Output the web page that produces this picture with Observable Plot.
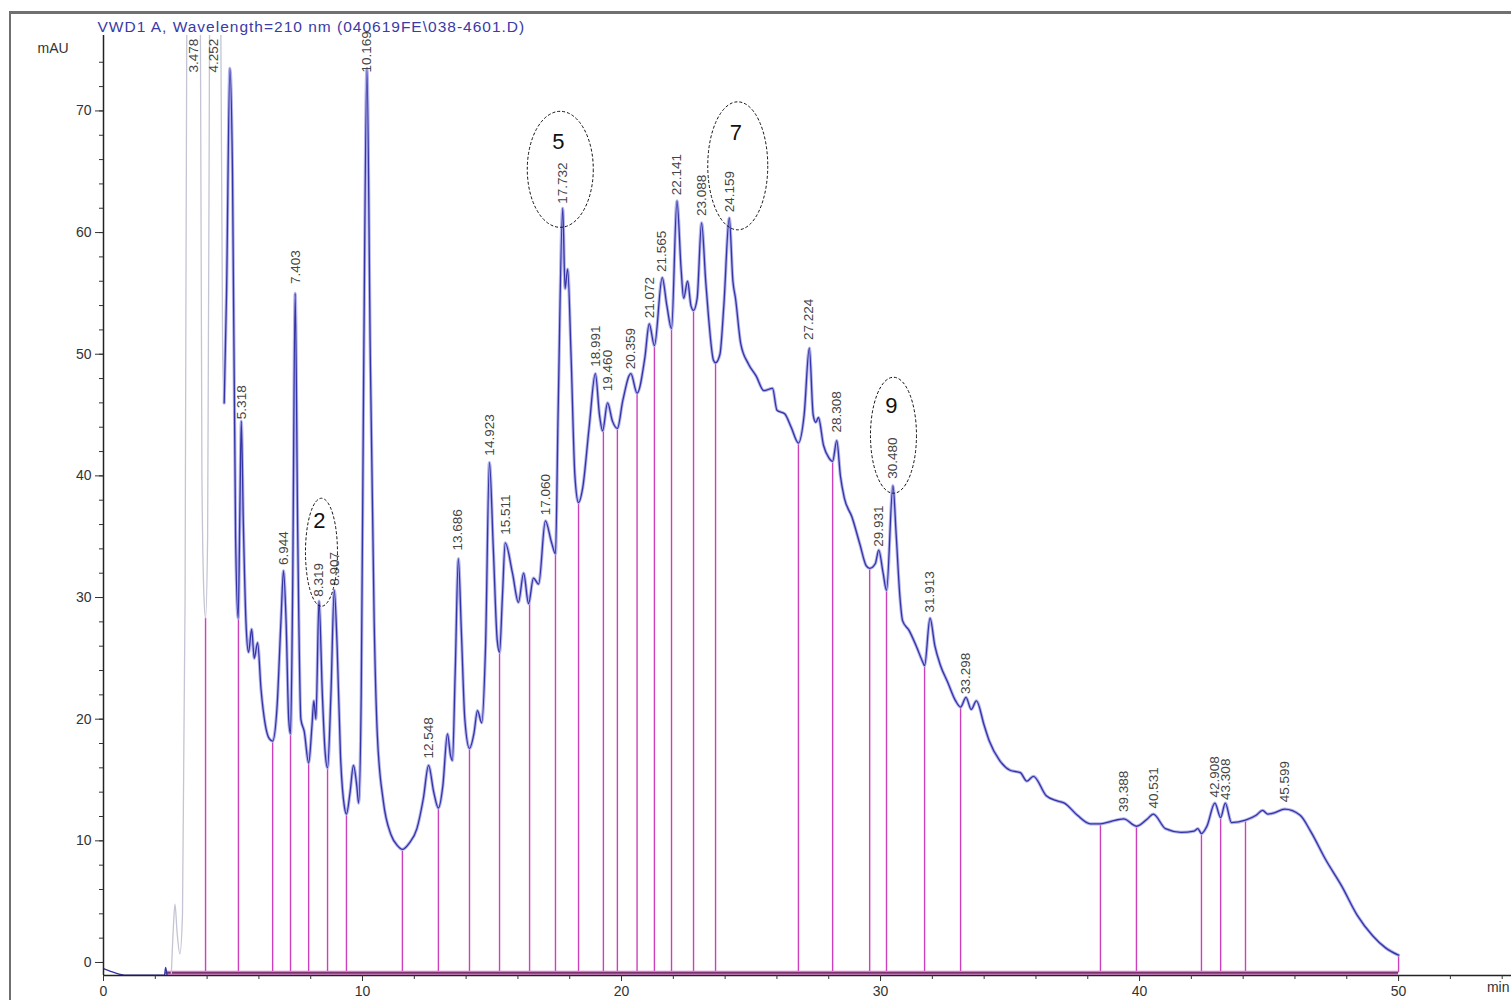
<!DOCTYPE html>
<html><head><meta charset="utf-8">
<script src="https://cdn.jsdelivr.net/npm/d3@7"></script>
<script src="https://cdn.jsdelivr.net/npm/@observablehq/plot@0.6"></script>
<style>
html,body{margin:0;padding:0;background:#fff;overflow:hidden;}
#wrap{position:relative;width:1511px;height:1000px;overflow:hidden;}
#frame{position:absolute;left:9px;top:11px;width:1520px;height:1010px;border-left:2px solid #707070;border-top:3px solid #707070;pointer-events:none;}
</style></head><body><div id="wrap"><div id="chart"></div><div id="frame"></div></div>
<script>
// ---------- data ----------
const title = "VWD1 A, Wavelength=210 nm (040619FE\\038-4601.D)";
const yUnit = "mAU";
const xUnit = "min";

// detector trace: retention time (min) and signal (mAU); values above 76 are off-scale
const traceTime = [0.00,0.30,0.60,1.00,2.35,2.40,2.45,2.62,2.70,2.76,2.84,2.95,3.05,3.15,3.22,3.48,3.72,3.80,3.88,3.94,4.02,4.10,4.25,4.50,4.60,4.66,4.75,4.88,4.98,5.10,5.20,5.27,5.32,5.40,5.50,5.60,5.72,5.82,5.95,6.08,6.25,6.40,6.53,6.70,6.85,6.95,7.05,7.15,7.22,7.30,7.40,7.50,7.62,7.75,7.92,8.05,8.12,8.20,8.32,8.45,8.55,8.65,8.78,8.91,9.02,9.15,9.30,9.38,9.52,9.65,9.78,9.85,9.95,10.05,10.17,10.30,10.45,10.57,10.80,11.10,11.35,11.54,11.80,12.10,12.35,12.55,12.75,12.93,13.10,13.28,13.40,13.47,13.58,13.70,13.82,13.95,14.13,14.30,14.44,14.60,14.75,14.90,15.05,15.20,15.29,15.40,15.51,15.79,16.02,16.22,16.41,16.60,16.80,17.06,17.30,17.45,17.55,17.73,17.82,17.92,18.05,18.20,18.34,18.50,18.75,18.99,19.15,19.27,19.46,19.65,19.84,20.05,20.36,20.60,20.90,21.07,21.27,21.57,21.75,21.93,22.14,22.30,22.40,22.55,22.68,22.78,22.92,23.09,23.25,23.35,23.55,23.63,23.80,23.95,24.16,24.30,24.40,24.60,24.90,25.20,25.50,25.83,26.00,26.30,26.55,26.83,27.05,27.25,27.40,27.50,27.60,27.80,28.00,28.15,28.31,28.45,28.60,28.90,29.20,29.45,29.58,29.80,29.93,30.10,30.23,30.48,30.60,30.75,30.85,31.10,31.40,31.65,31.70,31.91,32.10,32.30,32.60,32.90,33.09,33.30,33.50,33.70,34.00,34.20,34.60,35.00,35.40,35.65,35.90,36.40,36.80,37.10,37.60,38.10,38.49,38.90,39.39,39.88,40.30,40.53,41.00,41.60,42.10,42.25,42.39,42.60,42.91,43.13,43.31,43.55,44.09,44.50,44.75,44.95,45.20,45.60,46.20,46.60,47.20,47.80,48.40,49.00,49.50,50.00];
const traceMAU  = [-0.5,-0.75,-0.95,-1.05,-1.05,-0.4,-1.0,-0.9,3.0,4.8,2.5,0.7,4,30,80,120,90,40,30,28.3,35,80,130,90,50,46,55,73.5,65,35,28.3,38,44.5,36,28,25.5,27.4,25.0,26.3,22.5,19.5,18.4,18.2,21,28,32.2,28,20,18.8,30,55,35,20,19.0,16.4,19.5,21.5,20,29.7,22,17.5,16.0,22,30.6,26,17,12.8,12.2,14,16.2,14.5,13.1,22,50,73.5,50,28,18.8,13.3,10.5,9.6,9.3,9.8,11,13.5,16.2,14,12.7,14.5,18.8,17.0,16.6,24,33.2,27,20,17.6,18.8,20.7,19.7,26,41.1,34,26.5,25.5,30,34.5,32.0,29.6,32.0,29.5,31.6,31.1,36.3,34.5,33.6,45,62.0,55.4,57.0,50,40,37.8,39,44,48.4,45,43.7,46.0,44.5,43.9,46.2,48.4,46.8,49.7,52.5,50.7,56.3,54,52.1,62.6,57,54.6,56.0,54.0,53.6,54.6,60.8,56,53.3,49.5,49.3,50,54,61.2,56,54.6,50.9,49.2,48.2,47.0,47.2,45.4,45.1,44.0,42.7,45,50.5,45,44.4,44.8,42.5,41.5,41.2,42.9,40,38.2,36.6,34.4,32.6,32.4,32.8,33.9,32,30.6,39.2,35.3,30,28.1,27.3,25.9,24.6,24.4,28.3,26,24.5,23,21.5,21.0,21.8,20.8,21.5,19.5,18.2,16.6,15.8,15.6,14.9,15.3,13.7,13.3,13.1,12.1,11.4,11.4,11.6,11.8,11.2,11.8,12.2,11.0,10.7,10.8,11.0,10.6,11.2,13.1,11.9,13.1,11.5,11.7,12.1,12.5,12.2,12.3,12.6,12.1,10.8,8.4,6.3,3.9,2.2,1.2,0.6];

// integration drop lines: time (min) and signal at the drop (mAU)
const dropTime = [3.94,5.21,6.53,7.22,7.92,8.65,9.38,11.54,12.93,14.13,15.29,16.45,17.45,18.34,19.30,19.84,20.60,21.27,21.93,22.78,23.63,26.83,28.15,29.58,30.23,31.70,33.09,38.49,39.88,42.39,43.13,44.09,50.00];
const dropMAU  = [28.3,28.3,18.2,18.8,16.4,16.0,12.2,9.3,12.7,17.6,25.5,29.5,33.6,37.8,43.7,43.9,46.8,50.7,52.1,53.6,49.3,42.7,41.2,32.4,30.6,24.4,21.0,11.4,11.2,10.6,11.9,11.7,0.6];
const baselineMAU = -0.85;
const baselineFrom = 2.4;

// peak retention-time labels and apex heights (mAU); 3.478, 4.252, 10.169 are off-scale
const peakLabels = ["3.478","4.252","5.318","6.944","7.403","8.319","8.907","10.169","12.548","13.686","14.923","15.511","17.060","17.732","18.991","19.460","20.359","21.072","21.565","22.141","23.088","24.159","27.224","28.308","29.931","30.480","31.913","33.298","39.388","40.531","42.908","43.308","45.599"];
const peakMAU    = [120,130,44.5,32.5,55.6,29.9,30.8,73.5,16.6,33.7,41.5,35.0,36.6,62.2,48.8,46.8,48.6,52.8,56.6,62.9,61.2,61.5,51.0,43.4,34.0,39.6,28.6,21.9,12.2,12.5,13.4,13.2,13.0];

// hand-drawn circled peak numbers
const circledPeaks = ["8.319","17.732","24.159","30.480"];
const circledNums  = ["2","5","7","9"];

// axis ticks
const xTicks = [0,10,20,30,40,50];
const yTicks = [0,10,20,30,40,50,60,70];

// ---------- build ----------
const trace = traceTime.map((t, i) => ({t, v: traceMAU[i]}));
const drops = dropTime.map((t, i) => ({t, v: dropMAU[i]}));
const peaks = peakLabels.map((s, i) => ({s, t: +s, v: peakMAU[i]}));
const circled = circledPeaks.map((s, i) => ({s, n: circledNums[i], t: +s, v: peakMAU[peakLabels.indexOf(s)]}));
const xMinor = d3.range(0, 55, 2);
const yMinor = d3.range(0, 76, 2);

// oval style in px: [rx, ry, lift above apex, dx, number baseline below oval top]
const ovalStyle = [[16,54,46,3,30],[33,58,36,-2,38],[30,64,48,9,38],[23,58,45,1,36]];

const yTop = 73; // label clamp for off-scale peaks
const font = "Liberation Sans, Arial, Helvetica, sans-serif";

function ovals(index, scales) {
  const g = d3.create("svg:g");
  circled.forEach((d, i) => {
    const [rx, ry, lift, dx, numDy] = ovalStyle[i];
    const cx = scales.x(d.t) + dx;
    const cy = scales.y(Math.min(d.v, yTop)) - lift;
    g.append("ellipse").attr("cx", cx).attr("cy", cy).attr("rx", rx).attr("ry", ry)
      .attr("fill", "none").attr("stroke", "#111").attr("stroke-width", 1).attr("stroke-dasharray", "3,2");
    g.append("text").attr("x", cx - 2).attr("y", cy - ry + numDy).attr("text-anchor", "middle")
      .attr("font-family", font).attr("font-size", 22).attr("fill", "#111").text(d.n);
  });
  return g.node();
}

const chart = Plot.plot({
  width: 1511, height: 1000,
  marginLeft: 103, marginRight: 0, marginTop: 35, marginBottom: 25,
  x: {domain: [0, 54.36]},
  y: {domain: [-1.07, 76.2]},
  style: {background: "transparent", fontFamily: font},
  marks: [
    // drop lines and baseline
    Plot.ruleX(drops, {x: "t", y1: baselineMAU, y2: "v", stroke: "#cc40bb", strokeWidth: 1.4}),
    Plot.ruleY([baselineMAU], {x1: baselineFrom, x2: 50, stroke: "#e070d0", strokeWidth: 4}),
    Plot.ruleY([baselineMAU], {x1: baselineFrom, x2: 50, stroke: "#5a2050", strokeWidth: 1.2}),
    // trace
    Plot.line(trace, {filter: d => d.t >= 2.5 && d.t <= 4.75, x: "t", y: "v", stroke: "#c4c4d4", strokeWidth: 1.3, curve: "monotone-x", clip: true}),
    Plot.line(trace, {filter: d => d.t >= 4.66, x: "t", y: "v", stroke: "#b4b4ee", strokeWidth: 3.2, curve: "monotone-x", clip: true}),
    Plot.line(trace, {filter: d => d.t >= 4.66, x: "t", y: "v", stroke: "#3434a4", strokeWidth: 1.3, curve: "monotone-x", clip: true}),
    Plot.line(trace, {filter: d => d.t <= 2.5, x: "t", y: "v", stroke: "#3434a4", strokeWidth: 1.3, curve: "monotone-x", clip: true}),
    // peak labels
    Plot.text(peaks, {x: "t", y: d => Math.min(d.v, yTop), text: "s", rotate: -90, textAnchor: "start", dy: -2, fontSize: 13.5, fill: "#444"}),
    // axes
    Plot.ruleX([0], {stroke: "#222", strokeWidth: 1.5}),
    Plot.ruleY([-1.07], {stroke: "#222", strokeWidth: 1.5}),
    Plot.axisY({ticks: yTicks, tickSize: 8, tickPadding: 4, fontSize: 14, label: null, color: "#333"}),
    Plot.axisY({ticks: yMinor, tickSize: 4, tickFormat: () => "", label: null, color: "#333"}),
    Plot.axisX({ticks: xTicks, tickSize: 6, tickPadding: 5, fontSize: 14, label: null, color: "#333"}),
    Plot.axisX({ticks: xMinor, tickSize: 4, tickFormat: () => "", label: null, color: "#333"}),
    Plot.text([yUnit], {frameAnchor: "top-left", dx: -66, dy: 8, textAnchor: "start", fontSize: 14, fill: "#333"}),
    Plot.text([xUnit], {frameAnchor: "bottom-right", dx: -2, dy: 16, textAnchor: "end", fontSize: 14, fill: "#333"}),
    Plot.text([title], {frameAnchor: "top-left", dx: -6, dy: -15, textAnchor: "start", fontSize: 15.5, fill: "#3a3aa8"}),
    ovals
  ]
});
// spaced-out title lettering as in the instrument printout
for (const t of chart.querySelectorAll("text")) {
  if (t.textContent === title) t.style.letterSpacing = "1px";
}
document.getElementById("chart").appendChild(chart);
</script></body></html>
